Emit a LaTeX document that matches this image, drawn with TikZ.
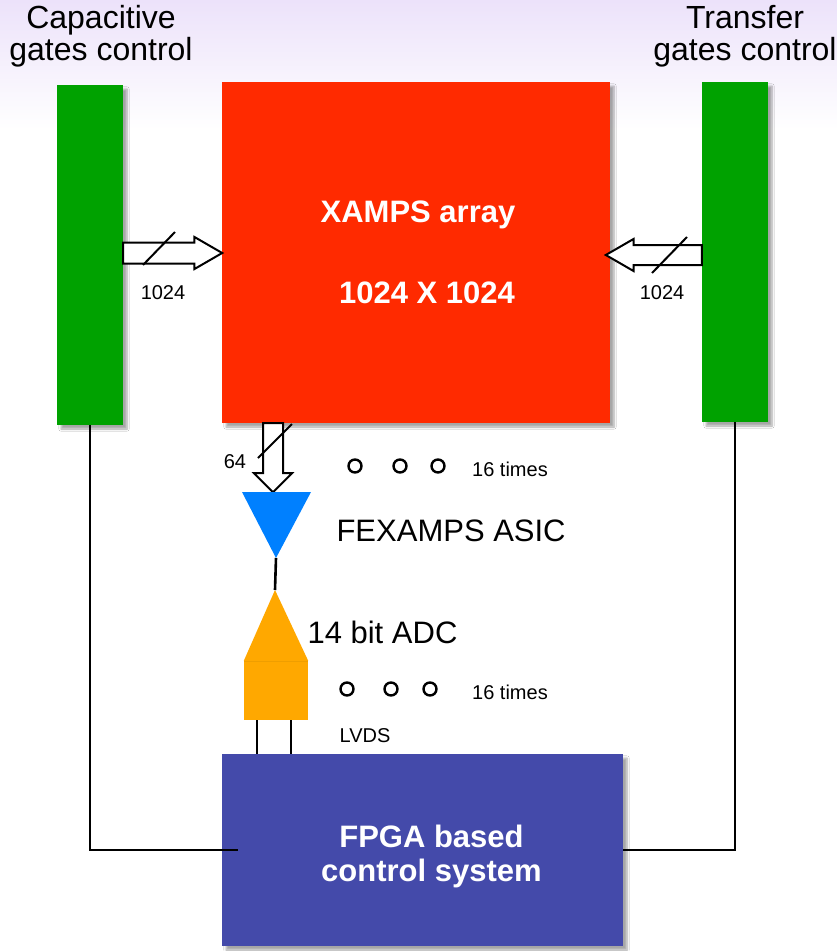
\documentclass[tikz,border=0pt]{standalone}
\usepackage{fontspec}
\setmainfont{Liberation Sans}
\usepackage{tikz}
\usetikzlibrary{
	shapes.arrows,
	arrows.meta,
	positioning,
	calc,
	shadows.blur
}
\definecolor{gatesgreen}{RGB}{0,162,0}
\definecolor{xampsred}{RGB}{255,42,0}
\definecolor{asicblue}{RGB}{0,128,255}
\definecolor{adcorange}{RGB}{255,168,0}
\definecolor{fpgablue}{RGB}{68,74,170}
\definecolor{toplilac}{RGB}{236,226,250}

\begin{document}
\begin{tikzpicture}[x=1pt, y=-1pt,
	box/.style={
		rectangle, inner sep=0pt, align=center,
		blur shadow={shadow xshift=4pt, shadow yshift=-4pt,
			shadow blur steps=6, shadow opacity=35}
	},
	greenbox/.style={
		box, fill=gatesgreen, minimum width=66pt, minimum height=340pt
	},
	bigfont/.style={font=\fontsize{31}{32}\selectfont},
	titlefont/.style={font=\fontsize{32}{32}\selectfont},
	smallfont/.style={font=\fontsize{20}{24}\selectfont},
	whitebold/.style={text=white, font=\bfseries\fontsize{31}{34}\selectfont},
	busarrow/.style={
		single arrow, draw, line width=2pt, fill=white, outer sep=0pt,
		single arrow head indent=0pt, anchor=tail
	},
	slash/.style={line width=2pt},
	wire/.style={line width=2.6pt},
	dotring/.style={circle, draw, line width=2.4pt, minimum size=13pt, inner sep=0pt},
	]
	
	% background
	\useasboundingbox[fill=white] (0,0) rectangle (837,951);
	\shade[top color=toplilac, bottom color=white] (0,0) rectangle (837,130);
	
	% titles
	\node[titlefont, align=center] (captitle) at (101,36) {Capacitive\\gates control};
	\node[titlefont, align=center] (xfertitle) at (745,36) {Transfer\\gates control};
	
	% main boxes
	\node[greenbox] (capctl) at (90,255) {};
	\node[greenbox] (xferctl) at (735,252) {};
	\node[box, fill=xampsred, minimum width=388pt, minimum height=341pt]
		(xamps) at (416,252.5) {};
	\node[whitebold] (xampsname) at (418,215) {XAMPS array};
	\node[whitebold] (xampssize) at (427,293) {1024 X 1024};
	\node[box, fill=fpgablue, minimum width=401pt, minimum height=192pt]
		(fpga) at (422.5,850) {};
	\node[whitebold, align=center] (fpganame) at ($(fpga.center)+(9,6)$)
		{FPGA based\\control system};
	
	% buses into the array
	\node[busarrow, minimum height=99pt, inner xsep=0pt, inner ysep=9.5pt,
		single arrow head extend=5.5pt, single arrow tip angle=60]
		(capbus) at (capctl.east |- 0,253) {};
	\draw[slash] (143,265) -- (175,232);
	\node[smallfont] (capwidth) at (163,293) {1024};
	
	\node[busarrow, minimum height=96pt, inner xsep=0pt, inner ysep=9pt, shape border rotate=180,
		single arrow head extend=6pt, single arrow tip angle=60]
		(xferbus) at (xferctl.west |- 0,255) {};
	\draw[slash] (652,273) -- (687,237);
	\node[smallfont] (xferwidth) at (662,293) {1024};
	
	% column readout
	\coordinate (asicin) at (276,492);
	\coordinate (asicout) at (276,558);
	\node[busarrow, minimum height=69pt, inner xsep=9pt, inner ysep=0pt, shape border rotate=270,
		single arrow head extend=9pt, single arrow tip angle=90]
		(colbus) at (xamps.south -| 273,0) {};
	\draw[slash] (258,458) -- (292,424);
	\node[smallfont] (colwidth) at (235,462) {64};
	
	\fill[asicblue] (242,492) -- (311,492) -- (asicout) -- cycle;
	\node[bigfont, right] (asiclabel) at (333,531) {FEXAMPS ASIC};
	
	% adc
	\node[fill=adcorange, minimum width=64pt, minimum height=59pt, inner sep=0pt]
		(adcbody) at (276,690.5) {};
	\coordinate (adctip) at (275,590);
	\fill[adcorange] (adcbody.north west) -- (adctip) -- (adcbody.north east) -- cycle;
	\draw[adcorange!85!black, opacity=0.4] (adcbody.north west) -- (adcbody.north east);
	\node[bigfont, right] (adclabel) at (304,632) {14 bit ADC};
	\draw[wire] (asicout) -- (adctip);
	
	% 16 times
	\foreach \x in {355,400,438} \node[dotring] at (\x,466) {};
	\node[smallfont] (asictimes) at (510,469) {16 times};
	\foreach \x in {347,391,430} \node[dotring] at (\x,689) {};
	\node[smallfont] (adctimes) at (510,692) {16 times};
	
	% lvds
	\draw[wire] ([xshift=-19pt]adcbody.south) -- ([xshift=-19pt]adcbody.south |- fpga.north);
	\draw[wire] ([xshift=15pt]adcbody.south) -- ([xshift=15pt]adcbody.south |- fpga.north);
	\node[smallfont] (lvds) at (365,736) {LVDS};
	
	% control lines
	\draw[wire] (capctl.south) |- ([xshift=16pt]fpga.west);
	\draw[wire] (xferctl.south) |- (fpga.east);
\end{tikzpicture}
\end{document}
